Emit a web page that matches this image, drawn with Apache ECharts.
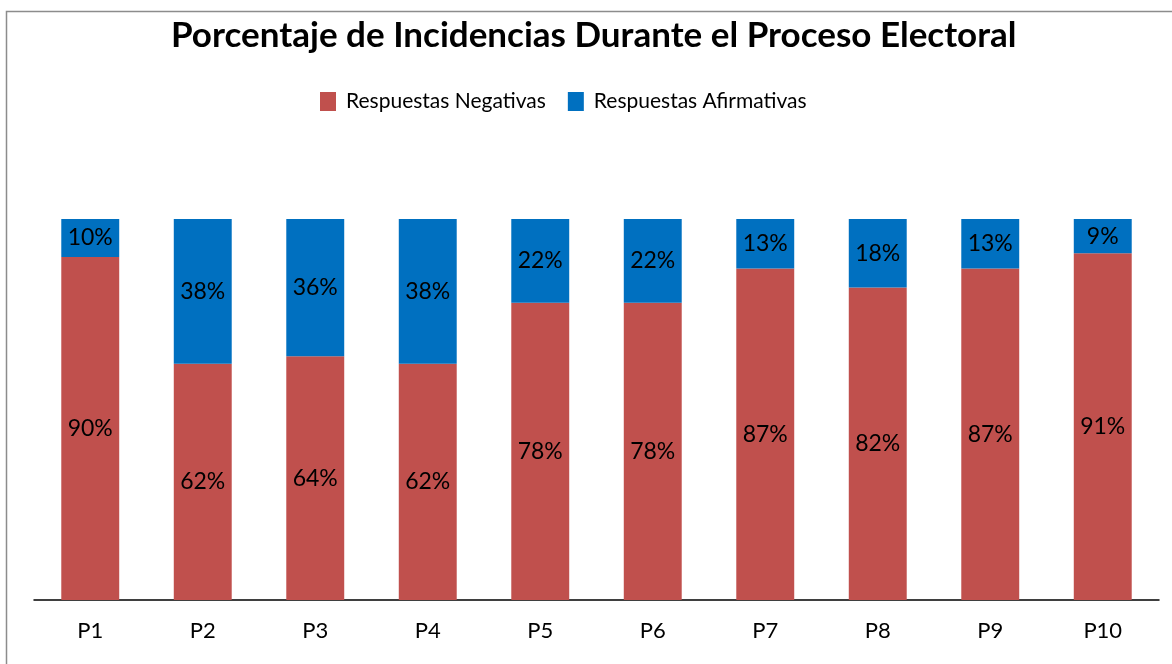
<!DOCTYPE html>
<html>
<head>
<meta charset="utf-8">
<script src="https://cdn.jsdelivr.net/npm/echarts@6/dist/echarts.min.js"></script>
<style>
  html, body { margin: 0; padding: 0; background: #fff; }
  #chart { width: 1172px; height: 664px; }
</style>
</head>
<body>
<div id="chart"></div>
<script>
// datos
var categorias = ['P1', 'P2', 'P3', 'P4', 'P5', 'P6', 'P7', 'P8', 'P9', 'P10'];
var negativas = [90, 62, 64, 62, 78, 78, 87, 82, 87, 91];
var afirmativas = [10, 38, 36, 38, 22, 22, 13, 18, 13, 9];

var fuente = 'Lato';

var chartDom = document.getElementById('chart');
var myChart = echarts.init(chartDom);

var etiqueta = {
    show: true,
    position: 'inside',
    color: '#000',
    fontFamily: fuente,
    fontSize: 23,
    formatter: function (p) { return p.value + '%'; }
};

myChart.setOption({
    animation: false,
    graphic: [{
        type: 'rect',
        shape: { x: 6.5, y: 11.5, width: 1170, height: 660 },
        style: { fill: 'none', stroke: '#8c8c8c', lineWidth: 1.5 },
        z: 0
    }],
    title: {
        text: 'Porcentaje de Incidencias Durante el Proceso Electoral',
        left: 171,
        top: 18,
        padding: 0,
        textStyle: {
            fontFamily: fuente,
            fontWeight: 'bold',
            fontSize: 35,
            color: '#000'
        }
    },
    legend: {
        top: 91,
        left: 320,
        padding: 0,
        itemWidth: 16,
        itemHeight: 19,
        itemGap: 22,
        icon: 'rect',
        textStyle: { fontFamily: fuente, fontSize: 21, color: '#000', padding: [0, 0, 0, 5] },
        data: ['Respuestas Negativas', 'Respuestas Afirmativas']
    },
    grid: {
        left: 34,
        right: 13,
        top: 219,
        bottom: 64
    },
    xAxis: {
        type: 'category',
        data: categorias,
        axisLine: { lineStyle: { color: '#000', width: 1.5 } },
        axisTick: { show: false },
        axisLabel: {
            margin: 20,
            fontFamily: fuente,
            fontSize: 22,
            color: '#000'
        }
    },
    yAxis: {
        type: 'value',
        min: 0,
        max: 100,
        show: false,
        splitLine: { show: false }
    },
    series: [
        {
            name: 'Respuestas Negativas',
            type: 'bar',
            stack: 'total',
            barWidth: '51.5%',
            data: negativas,
            itemStyle: { color: '#C0504D' },
            label: etiqueta
        },
        {
            name: 'Respuestas Afirmativas',
            type: 'bar',
            stack: 'total',
            data: afirmativas,
            itemStyle: { color: '#0070C0' },
            label: etiqueta
        }
    ]
});
</script>
</body>
</html>
